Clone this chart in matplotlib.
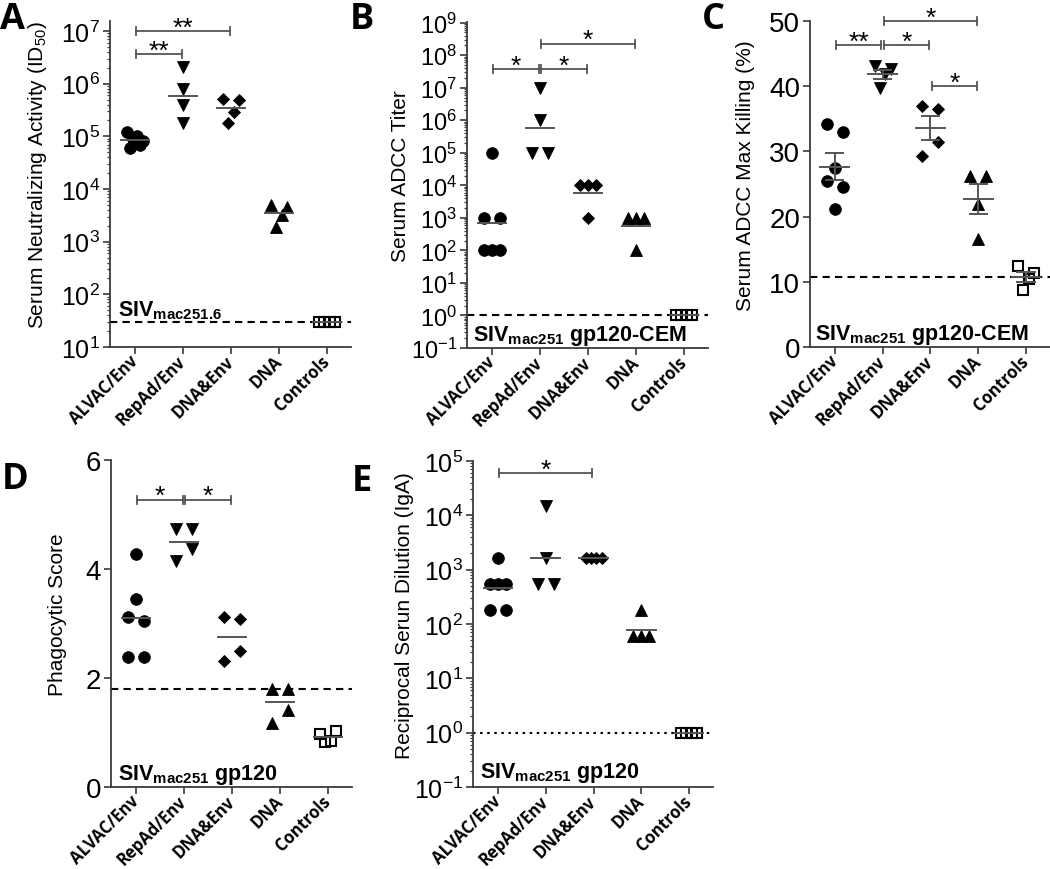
import numpy as np
import matplotlib
matplotlib.use("Agg")
from matplotlib import pyplot as plt
from matplotlib import transforms
from matplotlib.ticker import LogLocator, NullFormatter, FixedLocator

plt.rcParams["font.family"] = ["Liberation Sans", "DejaVu Sans"]
plt.rcParams["mathtext.fontset"] = "custom"
plt.rcParams["mathtext.rm"] = "Liberation Sans"
plt.rcParams["mathtext.it"] = "Liberation Sans:italic"
plt.rcParams["mathtext.bf"] = "Liberation Sans:bold"

groups = ["ALVAC/Env", "RepAd/Env", "DNA&Env", "DNA", "Controls"]

# A: serum neutralizing activity (ID50)
nab_id50 = [[1.2e5, 6.0e4, 9.0e4, 1.0e5, 7.0e4, 8.0e4],
            [2.1e6, 8.0e5, 3.9e5, 1.8e5],
            [5.2e5, 1.8e5, 2.9e5, 4.8e5],
            [5.0e3, 1.9e3, 3.2e3, 4.6e3],
            [30, 30, 30, 30]]
nab_cut = 30

# B: serum ADCC titer
adcc_titer = [[1e5, 1e3, 1e3, 1e2, 1e2, 1e2],
              [1e7, 1e6, 1e5, 1e5],
              [1e4, 1e4, 1e4, 1e3],
              [1e3, 1e3, 1e3, 1e2],
              [1, 1, 1, 1]]
adcc_cut = 1

# C: serum ADCC max killing (%)
adcc_kill = [[34.2, 33.0, 25.4, 27.4, 24.6, 21.2],
             [43.1, 39.8, 41.8, 42.6],
             [37.0, 36.5, 29.3, 31.5],
             [26.2, 26.2, 22.0, 16.6],
             [12.35, 8.7, 10.4, 11.4]]
kill_cut = 10.7

# D: phagocytic score
phago = [[4.28, 3.44, 3.12, 3.04, 2.38, 2.39],
         [4.73, 4.73, 4.15, 4.36],
         [3.12, 3.09, 2.31, 2.50],
         [1.80, 1.80, 1.18, 1.42],
         [0.97, 0.83, 0.84, 1.03]]
phago_cut = 1.8

# E: reciprocal serum dilution (IgA)
iga = [[1620, 540, 540, 540, 180, 180],
       [14580, 1620, 540, 540],
       [1620, 1620, 1620, 1620],
       [180, 60, 60, 60],
       [1, 1, 1, 1]]
iga_cut = 1

# significance comparisons (group i, group j, stars)
sig_A = [(0, 2, "**"), (0, 1, "**")]
sig_B = [(1, 3, "*"), (0, 1, "*"), (1, 2, "*")]
sig_C = [(1, 3, "*"), (0, 1, "**"), (1, 2, "*"), (2, 3, "*")]
sig_D = [(0, 1, "*"), (1, 2, "*")]
sig_E = [(0, 2, "*")]

markers = ["o", "v", "D", "^", "s"]
msizes = [8.4, 9.2, 6.2, 9.2, 7.2]
SPINE = "#3a3a3a"
MEAN = "#555555"

fig = plt.figure(figsize=(10.5, 8.7), dpi=100)


def spread_offsets(ax, vals, near=15.0, width=16.0):
    # points that overlap on screen are fanned out sideways, like a column scatter
    vals = np.asarray(vals, float)
    y = ax.transData.transform(np.column_stack([np.zeros_like(vals), vals]))[:, 1]
    xpx = ax.transData.transform([(1, 0)])[0, 0] - ax.transData.transform([(0, 0)])[0, 0]
    order = np.argsort(-y, kind="stable")
    off = np.zeros(len(vals))

    def flush(c):
        c = sorted(c)
        if len(c) > 1:
            off[c] = np.linspace(-width / 2, width / 2, len(c)) / xpx

    cluster = [order[0]]
    for k in order[1:]:
        if y[cluster[-1]] - y[k] < near:
            cluster.append(k)
        else:
            flush(cluster)
            cluster = [k]
    flush(cluster)
    return off


def sig_bar(ax, i, j, yf, stars, hpx):
    tr = transforms.blended_transform_factory(ax.transData, ax.transAxes)
    x0, x1 = i + 0.03, j - 0.03
    cap = 4.0 / hpx
    ax.plot([x0, x1], [yf, yf], color=MEAN, lw=1.3, transform=tr, clip_on=False)
    for xx in (x0, x1):
        ax.plot([xx, xx], [yf - cap, yf + cap], color=MEAN, lw=1.3, transform=tr, clip_on=False)
    ax.annotate(stars, xy=((x0 + x1) / 2, yf), xycoords=tr, xytext=(0, -2.5),
                textcoords="offset points", ha="center", va="baseline",
                fontsize=19, annotation_clip=False)


def panel(rect, data, log, ylim, cut, cut_ls, ylabel, lab_x, siv, siv_xy,
          sigs, sig_y, tick_fs, sem=False, yticks=None):
    ax = fig.add_axes(rect)
    ax.set_xlim(-0.52, 4.5)
    if log:
        ax.set_yscale("log")
    ax.set_ylim(*ylim)
    hpx = rect[3] * 870

    ax.axhline(cut, color="black", ls=cut_ls, lw=1.5, zorder=1)

    for i, vals in enumerate(data):
        vals = np.asarray(vals, float)
        off = spread_offsets(ax, vals)
        filled = markers[i] != "s"
        ax.plot(i + off, vals, ls="none", marker=markers[i], ms=msizes[i],
                mfc="black" if filled else "none", mec="black",
                mew=0.6 if filled else 1.5, zorder=2)
        m = np.exp(np.mean(np.log(vals))) if log else vals.mean()
        ax.plot([i - 0.3, i + 0.3], [m, m], color=MEAN, lw=1.4, zorder=3)
        if sem:
            s = vals.std(ddof=1) / np.sqrt(len(vals))
            ax.plot([i, i], [m - s, m + s], color=MEAN, lw=1.4, zorder=3)
            for yy in (m - s, m + s):
                ax.plot([i - 0.18, i + 0.18], [yy, yy], color=MEAN, lw=1.4, zorder=3)

    for (i, j, st), yf in zip(sigs, sig_y):
        sig_bar(ax, i, j, yf, st, hpx)

    for side in ("top", "right"):
        ax.spines[side].set_visible(False)
    for side in ("left", "bottom"):
        ax.spines[side].set_color(SPINE)
        ax.spines[side].set_linewidth(1.3)

    if log:
        ax.yaxis.set_major_locator(LogLocator(base=10, numticks=20))
        ax.yaxis.set_minor_locator(LogLocator(base=10, subs=np.arange(2, 10), numticks=20))
        ax.yaxis.set_minor_formatter(NullFormatter())
    else:
        ax.yaxis.set_major_locator(FixedLocator(yticks))
    ax.tick_params(axis="y", which="major", length=5, width=1.2, color=SPINE,
                   labelsize=tick_fs, pad=2)
    ax.tick_params(axis="y", which="minor", length=2.5, width=0.9, color=SPINE)
    ax.tick_params(axis="x", length=5, width=1.2, color=SPINE, pad=3)
    ax.set_xticks(range(len(groups)))
    ax.set_xticklabels(groups, rotation=45, ha="right", va="center",
                       rotation_mode="anchor", fontsize=12, fontweight="bold",
                       family=["Open Sans", "DejaVu Sans"])

    ax.set_ylabel(ylabel, fontsize=15)
    ax.yaxis.set_label_coords(lab_x, 0.53)
    ax.text(siv_xy[0], siv_xy[1], siv, transform=ax.transAxes, fontsize=15.5,
            fontweight="bold", va="baseline", ha="left")
    return ax


panel([0.1048, 0.6, 0.2295, 0.3747], nab_id50, True, (10, 10 ** 7.19), nab_cut,
      (0, (3.5, 2.5)), r"Serum Neutralizing Activity (ID$_{50}$)", -0.253,
      r"$\mathbf{SIV}_{\mathbf{mac251.6}}$", (0.033, 0.098),
      sig_A, [0.968, 0.899], 18)

panel([0.4448, 0.5989, 0.2295, 0.3747], adcc_titer, True, (0.1, 1.05e9), adcc_cut,
      (0, (3.5, 2.5)), "Serum ADCC Titer", -0.237,
      r"$\mathbf{SIV}_{\mathbf{mac251}}$ gp120-CEM", (0.025, 0.025),
      sig_B, [0.933, 0.856, 0.856], 17)

panel([0.7714, 0.6, 0.2286, 0.3747], adcc_kill, False, (0, 50), kill_cut,
      (0, (3.5, 2.5)), "Serum ADCC Max Killing (%)", -0.229,
      r"$\mathbf{SIV}_{\mathbf{mac251}}$ gp120-CEM", (0.02, 0.025),
      sig_C, [1.0, 0.926, 0.926, 0.80], 20, sem=True, yticks=[0, 10, 20, 30, 40, 50])

panel([0.1057, 0.0943, 0.2295, 0.3759], phago, False, (0, 6), phago_cut,
      (0, (3.5, 2.5)), "Phagocytic Score", -0.183,
      r"$\mathbf{SIV}_{\mathbf{mac251}}$ gp120", (0.029, 0.024),
      sig_D, [0.878, 0.878], 20, yticks=[0, 2, 4, 6])

panel([0.4505, 0.0943, 0.2286, 0.3747], iga, True, (0.1, 1e5), iga_cut,
      (0, (1.2, 2.2)), "Reciprocal Serun Dilution (IgA)", -0.245,
      r"$\mathbf{SIV}_{\mathbf{mac251}}$ gp120", (0.029, 0.03),
      sig_E, [0.963], 18)

for letter, x, y in [("A", 0, 2), ("B", 350, 2), ("C", 702, 2), ("D", 2, 462), ("E", 352, 464)]:
    fig.text(x / 1050, 1 - y / 870, letter, fontsize=26, fontweight="bold",
             family=["Open Sans", "DejaVu Sans"], ha="left", va="top")

fig.savefig("out.png", dpi=100)
